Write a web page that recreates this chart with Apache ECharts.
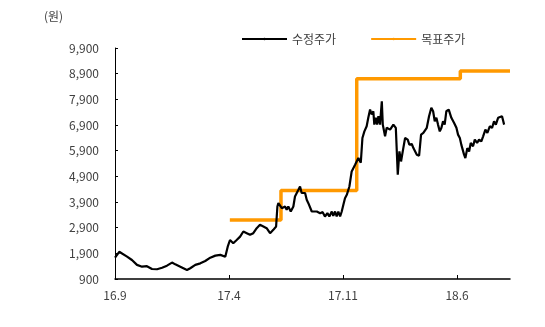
<!DOCTYPE html>
<html><head><meta charset="utf-8">
<script src="https://cdn.jsdelivr.net/npm/echarts@6/dist/echarts.min.js"></script>
<style>html,body{margin:0;padding:0;background:#fff}#c{width:545px;height:327px}</style>
</head><body><div id="c"></div>
<script>
// x in months since 2016-09
const xTickLabels = ['16.9','17.4','17.11','18.6'];
const priceX = [0,0.26,0.74,1.04,1.35,1.66,1.96,2.27,2.58,2.89,3.19,3.50,3.70,4.01,4.42,4.62,4.93,5.24,5.54,5.85,6.16,6.47,6.77,6.92,7.06,7.26,7.47,7.68,7.88,8.09,8.29,8.49,8.70,8.90,9.11,9.31,9.52,9.72,9.89,9.97,10.03,10.24,10.44,10.54,10.64,10.79,10.95,11.05,11.26,11.36,11.46,11.56,11.67,11.77,11.87,11.97,12.08,12.18,12.39,12.59,12.75,12.89,13.04,13.16,13.31,13.40,13.51,13.61,13.71,13.82,13.92,14.02,14.12,14.23,14.39,14.53,14.74,14.94,15.09,15.19,15.31,15.45,15.55,15.66,15.76,15.86,15.92,16.01,16.09,16.17,16.27,16.38,16.44,16.58,16.68,16.89,17.09,17.24,17.30,17.36,17.46,17.56,17.70,17.81,17.97,18.07,18.22,18.32,18.42,18.53,18.67,18.79,18.93,19.04,19.14,19.28,19.42,19.53,19.63,19.73,19.83,19.94,20.04,20.14,20.24,20.34,20.49,20.65,20.82,20.96,21.06,21.17,21.26,21.37,21.43,21.51,21.63,21.74,21.84,21.98,22.09,22.23,22.35,22.49,22.60,22.74,22.86,23.01,23.15,23.27,23.38,23.52,23.62,23.76,23.89];
const priceV = [1730,1960,1770,1640,1450,1380,1400,1290,1280,1340,1420,1540,1470,1380,1250,1320,1450,1510,1600,1730,1810,1840,1770,2160,2420,2295,2420,2550,2750,2685,2620,2685,2880,3010,2945,2880,2685,2815,2945,3725,3855,3660,3725,3595,3725,3530,3725,4115,4375,4505,4250,4180,4250,3985,3855,3920,3530,3465,3530,3465,3505,3335,3465,3335,3530,3360,3530,3335,3530,3335,3530,3790,4050,4180,4505,5090,5350,5615,5430,6395,6650,6850,7180,7500,7310,7435,6915,7180,6915,7240,6915,7825,6915,6460,6790,6720,6915,6790,6720,4960,5870,5480,6000,6395,6330,6135,6160,6000,6070,5745,5705,6525,6590,6525,6790,7240,7570,7435,7045,7180,6915,6650,6790,7045,6915,7435,7500,7180,6980,6790,6525,6395,6135,6070,5745,5615,6000,5870,6200,6070,6330,6200,6330,6265,6460,6720,6590,6850,6790,7045,6915,7180,7110,7240,6915];
const targetX = [7.05,10.19,14.84,21.2,24.25];
const targetV = [3200,4350,8700,9000,9000];
const seriesNames = ['수정주가','목표주가'];

const zip = (a,b)=>a.map((v,i)=>[v,b[i]]);
const font = '"Noto Sans CJK KR","Noto Sans",sans-serif';
const chart = echarts.init(document.getElementById('c'));
chart.setOption({
  animation:false,
  textStyle:{fontFamily:font},
  graphic:[{type:'text',left:44,top:10,style:{text:'(원)',font:'12px '+font,fill:'#404040'}}],
  legend:{left:236,top:28,itemWidth:45,itemHeight:3,itemGap:34,
    textStyle:{fontSize:12,color:'#404040',fontFamily:font},
    data:seriesNames},
  grid:{left:115,right:35,top:48,bottom:48},
  xAxis:{type:'value',min:0,max:24.25,interval:7,
    axisLine:{lineStyle:{color:'#000',width:1.5}},
    axisTick:{inside:true,length:4,lineStyle:{color:'#000'}},
    splitLine:{show:false},
    axisLabel:{color:'#404040',fontSize:12,margin:10,showMaxLabel:false,
      formatter:v=>xTickLabels[Math.round(v/7)]||''}},
  yAxis:{type:'value',min:900,max:9900,interval:1000,
    axisLine:{show:true,lineStyle:{color:'#000',width:1}},
    axisTick:{show:true,inside:true,length:3,lineStyle:{color:'#000'}},
    splitLine:{show:false},
    axisLabel:{color:'#404040',fontSize:12,margin:16,
      formatter:v=>v.toLocaleString('en-US')}},
  series:[
    {name:seriesNames[0],type:'line',symbol:'none',data:zip(priceX,priceV),
     lineStyle:{color:'#000',width:2.2},itemStyle:{color:'#000'},z:3},
    {name:seriesNames[1],type:'line',symbol:'none',step:'end',data:zip(targetX,targetV),
     lineStyle:{color:'#FF9900',width:3.5},itemStyle:{color:'#FF9900'},z:2}
  ]
});
</script></body></html>
